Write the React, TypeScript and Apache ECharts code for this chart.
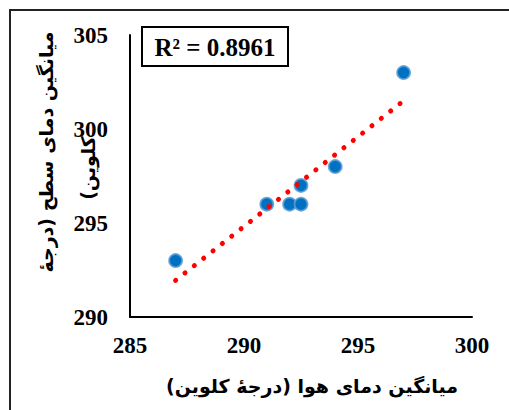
import React, { useEffect, useRef } from "react";
import * as echarts from "echarts";

// Data
const airTemp = [287, 291, 292, 292.5, 292.5, 294, 297];
const surfaceTemp = [293, 296, 296, 296, 297, 298, 303];
const trendX = [287, 297];
const trendY = [291.95, 301.5];
const xTicks = [285, 290, 295, 300];
const yTicks = [290, 295, 300, 305];
const r2Label = "R² = 0.8961";
const xTitle = "میانگین دمای هوا (درجهٔ کلوین)";
const yTitleLine1 = "میانگین دمای سطح (درجهٔ";
const yTitleLine2 = "کلوین)";

const RLM = "\u200F";
const serif = "'Liberation Serif', 'Times New Roman', serif";
const arabicFont = "'DejaVu Sans', 'Liberation Sans', sans-serif";

export default function App() {
  const ref = useRef<HTMLDivElement>(null);

  useEffect(() => {
    if (!ref.current) return;
    const chart = echarts.init(ref.current, undefined, { renderer: "svg" });
    const scatterData = airTemp.map((x, i) => [x, surfaceTemp[i]]);
    const trendData = trendX.map((x, i) => [x, trendY[i]]);

    chart.setOption({
      animation: false,
      backgroundColor: "#ffffff",
      grid: { left: 130, right: 37, top: 35, bottom: 93, containLabel: false },
      xAxis: {
        type: "value",
        min: xTicks[0],
        max: xTicks[xTicks.length - 1],
        interval: xTicks[1] - xTicks[0],
        splitLine: { show: false },
        axisTick: { show: false },
        axisLine: { show: true, onZero: false, lineStyle: { color: "#000", width: 2 } },
        axisLabel: {
          color: "#000",
          fontFamily: serif,
          fontWeight: "bold",
          fontSize: 23,
          margin: 17,
        },
      },
      yAxis: {
        type: "value",
        min: yTicks[0],
        max: yTicks[yTicks.length - 1],
        interval: yTicks[1] - yTicks[0],
        splitLine: { show: false },
        axisTick: { show: false },
        axisLine: { show: true, onZero: false, lineStyle: { color: "#000", width: 2 } },
        axisLabel: {
          color: "#000",
          fontFamily: serif,
          fontWeight: "bold",
          fontSize: 23,
          margin: 22,
        },
      },
      series: [
        {
          type: "scatter",
          data: scatterData,
          symbol: "circle",
          symbolSize: 13,
          itemStyle: {
            color: "#0070C0",
            borderColor: "rgba(91,155,213,0.85)",
            borderWidth: 1.8,
            opacity: 1,
          },
          z: 2,
        },
        {
          type: "line",
          data: trendData,
          showSymbol: false,
          symbol: "none",
          lineStyle: {
            color: "#FF0000",
            width: 5,
            type: [0.1, 11.8],
            cap: "round",
          },
          z: 3,
        },
      ],
      graphic: [
        {
          type: "rect",
          shape: { x: 10, y: 10, width: 520, height: 420 },
          style: { fill: "none", stroke: "#222", lineWidth: 2 },
          silent: true,
          z: 10,
        },
        {
          type: "rect",
          shape: { x: 142, y: 27, width: 146, height: 39 },
          style: { fill: "#fff", stroke: "#000", lineWidth: 2 },
          z: 10,
        },
        {
          type: "text",
          x: 215,
          y: 47,
          style: {
            text: r2Label,
            fill: "#000",
            font: `bold 25px ${serif}`,
            textAlign: "center",
            textVerticalAlign: "middle",
          },
          z: 11,
        },
        {
          type: "text",
          x: 312,
          y: 386,
          style: {
            text: xTitle + RLM,
            fill: "#000",
            font: `bold 19px ${arabicFont}`,
            textAlign: "center",
            textVerticalAlign: "middle",
          },
          z: 11,
        },
        {
          type: "text",
          x: 46,
          y: 152,
          rotation: Math.PI / 2,
          style: {
            text: yTitleLine1 + RLM,
            fill: "#000",
            font: `bold 19px ${arabicFont}`,
            textAlign: "center",
            textVerticalAlign: "middle",
          },
          z: 11,
        },
        {
          type: "text",
          x: 88,
          y: 168,
          rotation: Math.PI / 2,
          style: {
            text: yTitleLine2 + RLM,
            fill: "#000",
            font: `bold 19px ${arabicFont}`,
            textAlign: "center",
            textVerticalAlign: "middle",
          },
          z: 11,
        },
      ],
    });

    return () => chart.dispose();
  }, []);

  return (
    <div
      ref={ref}
      style={{ position: "fixed", left: 0, top: 0, width: 509, height: 410 }}
    />
  );
}
